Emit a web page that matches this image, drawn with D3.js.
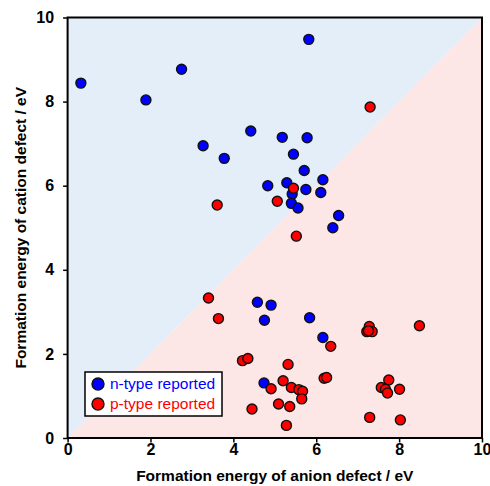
<!DOCTYPE html>
<html>
<head>
<meta charset="utf-8">
<script src="https://cdn.jsdelivr.net/npm/d3@7"></script>
<style>
  body { margin: 0; background: #fff; }
  text { font-family: "Liberation Sans", Arial, sans-serif; }
</style>
</head>
<body>
<div id="chart"></div>
<script>
// n-type reported (anion defect energy, cation defect energy)
const nAnion = [0.32, 1.89, 2.75, 3.27, 3.78, 4.42, 5.82, 5.18, 5.78, 5.45, 5.71, 4.83, 5.29, 5.75, 6.16, 6.11, 5.42, 5.40, 5.56, 6.54, 6.40, 4.58, 4.91, 4.75, 5.84, 6.16, 4.74];
const nCation = [8.44, 8.04, 8.77, 6.95, 6.65, 7.30, 9.48, 7.15, 7.14, 6.75, 6.36, 6.00, 6.07, 5.91, 6.14, 5.84, 5.80, 5.58, 5.47, 5.29, 5.00, 3.23, 3.16, 2.80, 2.86, 2.39, 1.31];

// p-type reported
const pAnion = [7.30, 5.45, 5.06, 3.61, 5.52, 3.40, 3.64, 6.35, 4.22, 4.35, 5.32, 4.91, 5.20, 5.40, 5.58, 5.67, 5.65, 5.09, 5.36, 4.45, 5.28, 6.19, 6.25,
                7.22, 7.28, 7.35, 7.26, 8.49, 7.75, 7.57, 7.67, 7.72, 8.01, 7.29, 8.03];
const pCation = [7.87, 5.94, 5.63, 5.54, 4.80, 3.33, 2.84, 2.18, 1.84, 1.89, 1.75, 1.17, 1.36, 1.20, 1.15, 1.11, 0.93, 0.81, 0.75, 0.69, 0.30, 1.42, 1.44,
                 2.53, 2.65, 2.53, 2.55, 2.67, 1.38, 1.20, 1.16, 1.07, 1.16, 0.49, 0.43];

const ticks = [0, 2, 4, 6, 8, 10];

const width = 490, height = 486;
const margin = { left: 67.6, right: 8, top: 17.5, bottom: 48 };

const x = d3.scaleLinear().domain([0, 10]).range([margin.left, width - margin.right]);
const y = d3.scaleLinear().domain([0, 10]).range([height - margin.bottom, margin.top]);

const svg = d3.select("#chart").append("svg")
    .attr("width", width)
    .attr("height", height);

// background regions split by the diagonal
svg.append("path")
    .attr("d", `M${x(0)},${y(0)}L${x(0)},${y(10)}L${x(10)},${y(10)}Z`)
    .attr("fill", "#e3eef8");
svg.append("path")
    .attr("d", `M${x(0)},${y(0)}L${x(10)},${y(10)}L${x(10)},${y(0)}Z`)
    .attr("fill", "#fce6e6");

const xAxis = svg.append("g")
    .attr("transform", `translate(0,${y(0)})`)
    .call(d3.axisBottom(x).tickValues(ticks).tickSize(4.5).tickSizeOuter(0).tickPadding(1));
const yAxis = svg.append("g")
    .attr("transform", `translate(${x(0)},0)`)
    .call(d3.axisLeft(y).tickValues(ticks).tickSize(4.5).tickSizeOuter(0).tickPadding(9));

[xAxis, yAxis].forEach(a => {
    a.select(".domain").remove();
    a.selectAll(".tick line").attr("stroke", "#000").attr("stroke-width", 1.5);
    a.selectAll(".tick text")
        .attr("font-family", "'Liberation Sans', Arial, sans-serif")
        .attr("font-size", 16)
        .attr("font-weight", "bold")
        .attr("fill", "#000");
});

// frame
svg.append("rect")
    .attr("x", x(0)).attr("y", y(10))
    .attr("width", x(10) - x(0)).attr("height", y(0) - y(10))
    .attr("fill", "none").attr("stroke", "#000").attr("stroke-width", 2);

function drawPoints(xs, ys, color) {
    svg.append("g").selectAll("circle")
        .data(xs.map((v, i) => [v, ys[i]]))
        .enter().append("circle")
        .attr("cx", d => x(d[0]))
        .attr("cy", d => y(d[1]))
        .attr("r", 5)
        .attr("fill", color)
        .attr("stroke", "#111")
        .attr("stroke-width", 1.4);
}
drawPoints(nAnion, nCation, "#0000ff");
drawPoints(pAnion, pCation, "#ff0000");

// legend
const legend = svg.append("g").attr("transform", "translate(85,372)");
legend.append("rect")
    .attr("width", 137).attr("height", 44)
    .attr("fill", "#fff").attr("stroke", "#000").attr("stroke-width", 1.5);
const items = [["n-type reported", "#0000ff"], ["p-type reported", "#ff0000"]];
items.forEach((it, i) => {
    legend.append("circle")
        .attr("cx", 13).attr("cy", 12 + i * 20).attr("r", 6)
        .attr("fill", it[1]).attr("stroke", "#111").attr("stroke-width", 1.4);
    legend.append("text")
        .attr("x", 25).attr("y", 17 + i * 20)
        .attr("font-size", 15.5)
        .attr("fill", it[1])
        .text(it[0]);
});

// axis titles
svg.append("text")
    .attr("x", (x(0) + x(10)) / 2).attr("y", 481)
    .attr("text-anchor", "middle")
    .attr("font-size", 15.5).attr("font-weight", "bold")
    .text("Formation energy of anion defect / eV");
svg.append("text")
    .attr("transform", `translate(26,${(y(0) + y(10)) / 2}) rotate(-90)`)
    .attr("text-anchor", "middle")
    .attr("font-size", 15.5).attr("font-weight", "bold")
    .text("Formation energy of cation defect / eV");
</script>
</body>
</html>
